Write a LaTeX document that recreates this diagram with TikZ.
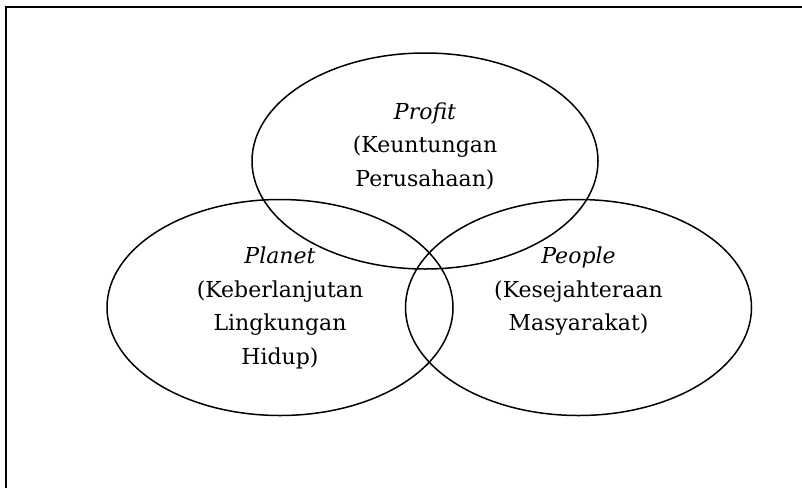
\documentclass[tikz,border=0pt]{standalone}
\usepackage{fontspec}
\setmainfont{DejaVu Serif}
\usepackage{tikz}
\usetikzlibrary{shapes.geometric,positioning}

\tikzset{
  pillar/.style={ellipse, draw, line width=1.5pt, inner sep=0pt,
                 minimum width=346pt, minimum height=216pt},
  lbl/.style={align=center, inner sep=0pt, anchor=north,
              font=\fontsize{22}{33.5}\selectfont}
}

\begin{document}
\begin{tikzpicture}[x=1pt,y=-1pt]
\useasboundingbox (0,0) rectangle (802,488);
% frame (only top and left edge show)
\coordinate (frameTL) at (6,6.5);
\draw[line width=2pt] (frameTL |- 0,488) -- (frameTL) -- (802,6.5);

% the three pillars
\node[pillar] (profit) at (425,161) {};
\node[pillar] (planet) at (280,307.5) {};
\node[pillar] (people) at (578.5,307.5) {};

\node[lbl, below=50pt of profit.north] (profitText) {\textit{Profit}\\(Keuntungan\\Perusahaan)};
\node[lbl, below=48pt of planet.north] (planetText) {\textit{Planet}\\(Keberlanjutan\\Lingkungan\\Hidup)};
\node[lbl, below=48pt of people.north] (peopleText) {\textit{People}\\(Kesejahteraan\\Masyarakat)};
\end{tikzpicture}
\end{document}
